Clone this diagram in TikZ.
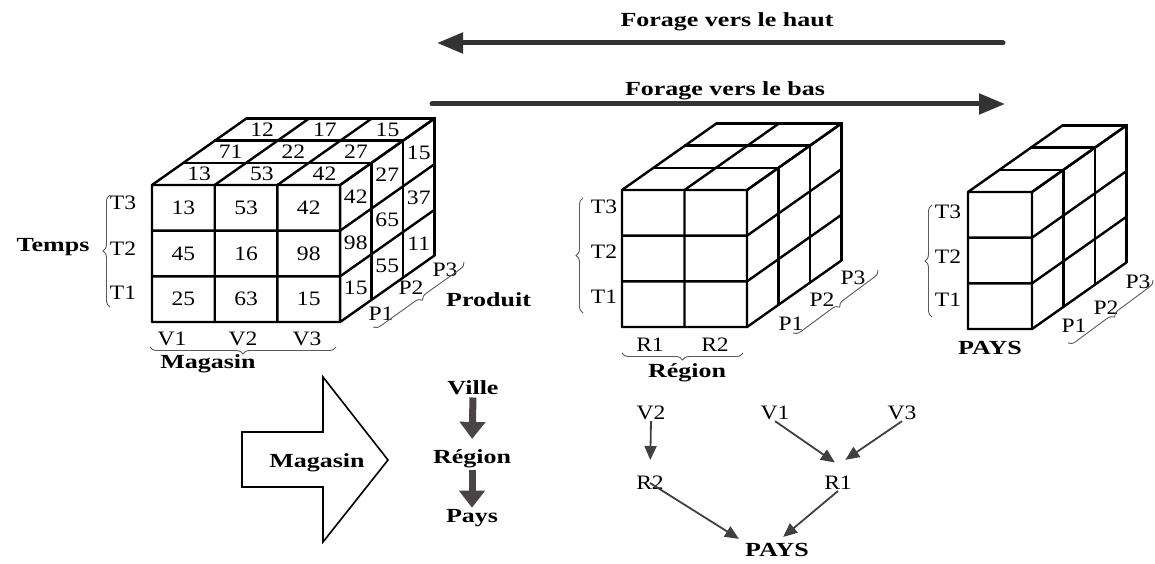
\documentclass[tikz,border=0pt]{standalone}
\usepackage{fontspec}
\setmainfont{Liberation Serif}[FakeStretch=1.15]
\newfontfamily\widebf{Liberation Serif}[FakeStretch=1.3]
\usetikzlibrary{arrows.meta}
\usetikzlibrary{decorations.pathreplacing}

\definecolor{arrowgray}{RGB}{74,68,72}

% data cube: front face at #1, #2 columns of width #3, three rows, three layers deep
\newcommand{\datacube}[3]{%
\begin{scope}[shift={#1}]
	\foreach \i in {0,...,#2} \draw[grid] (\i*#3,0) -- (\i*#3,137) (\i*#3,0) -- ++(94.5,-66.6);
	\foreach \j in {0,...,3} \draw[grid] (0,\j*45.67) -- (#2*#3,\j*45.67) -- ++(94.5,-66.6);
	\foreach \k in {1,2,3} \draw[grid] (\k*31.5,-\k*22.2) -- ++(#2*#3,0) -- ++(0,137);
\end{scope}}

\begin{document}
\begin{tikzpicture}[x=1pt,y=-1pt]
\tikzstyle{every node}=[font=\fontsize{20.5}{24}\selectfont, inner sep=1pt]
\tikzstyle{grid}=[line width=2.4pt, line cap=round]
\tikzstyle{bold}=[font=\fontsize{20}{24}\widebf\bfseries]
\tikzstyle{curly}=[decorate, decoration={brace, amplitude=7pt}, line width=0.9pt, draw=black!65]
\tikzstyle{drill}=[line width=5pt, draw=black!80, line cap=round, -{Triangle[length=26pt,width=20pt]}]
\tikzstyle{fat}=[line width=7pt, draw=arrowgray, -{Triangle[length=17pt,width=25pt]}]
\tikzstyle{roll}=[line width=1.8pt, draw=black!75, -{Triangle[length=14pt,width=12pt]}]
\useasboundingbox (0,0) rectangle (1155,564);

% drill up / drill down
\coordinate (up0) at (1003,43);
\coordinate (up1) at (437,43);
\draw[drill] (up0) -- (up1);
\node[bold, anchor=base] (uptext) at (727,27) {Forage vers le haut};
\coordinate (dn0) at (432,104);
\coordinate (dn1) at (1005,104);
\draw[drill] (dn0) -- (dn1);
\node[bold, anchor=base] (dntext) at (725,96) {Forage vers le bas};

% cube by town
\datacube{(152,185)}{3}{62.7}
\foreach \v [count=\n from 0] in {13,53,42,45,16,98,25,63,15}
{\pgfmathtruncatemacro\cc{mod(\n,3)}\pgfmathtruncatemacro\rr{div(\n,3)}
 \node (front\n) at ({152+(\cc+0.5)*62.7},{185+(\rr+0.5)*45.7}) {\v};}
\foreach \v [count=\n from 0] in {13,53,42,71,22,27,12,17,15}
{\pgfmathtruncatemacro\cc{mod(\n,3)}\pgfmathtruncatemacro\kk{div(\n,3)}
 \node (top\n) at ({152+(\cc+0.5)*62.7+(\kk+0.5)*31.5},{185-(\kk+0.5)*22.2}) {\v};}
\foreach \v [count=\n from 0] in {42,98,15,27,65,55,15,37,11}
{\pgfmathtruncatemacro\rr{mod(\n,3)}\pgfmathtruncatemacro\kk{div(\n,3)}
 \node (side\n) at ({340+(\kk+0.5)*31.5},{185+(\rr+0.5)*45.7-(\kk+0.5)*22.2}) {\v};}

\node (ta3) at (123,203) {T3};
\node (ta2) at (123,249) {T2};
\node (ta1) at (123,293) {T1};
\draw[curly] (110,307) -- (110,195);
\node[bold, anchor=base] (temps) at (53,251) {Temps};
\node[anchor=base] (v1) at (172,345) {V1};
\node[anchor=base] (v2) at (243,345) {V2};
\node[anchor=base] (v3) at (307,345) {V3};
\draw[curly] (336,347) -- (150,347);
\node[bold, anchor=base] (magasin) at (208,368) {Magasin};
\node (pa1) at (381,314) {P1};
\node (pa2) at (411,288) {P2};
\node (pa3) at (445,270) {P3};
\draw[curly] (464,262) -- (373,327);
\node[bold, anchor=base west] (produit) at (445,306) {Produit};

% cube by region
\datacube{(622,190)}{2}{62.5}
\node (tb3) at (604,207) {T3};
\node (tb2) at (604,252) {T2};
\node (tb1) at (604,297) {T1};
\draw[curly] (583,313) -- (583,198);
\node[anchor=base] (r1) at (650,351) {R1};
\node[anchor=base] (r2) at (715,351) {R2};
\draw[curly] (743,353) -- (622,353);
\node[bold, anchor=base] (region) at (687,377) {Région};
\node (pb1) at (791,324) {P1};
\node (pb2) at (822,300) {P2};
\node (pb3) at (853,278) {P3};
\draw[curly] (878,270) -- (793,333);

% cube by country
\datacube{(968,192)}{1}{64}
\node (tc3) at (948,212) {T3};
\node (tc2) at (948,257) {T2};
\node (tc1) at (948,300) {T1};
\draw[curly] (932,317) -- (932,205);
\node[bold] (pays) at (990,348) {PAYS};
\node (pc1) at (1074,326) {P1};
\node (pc2) at (1106,308) {P2};
\node (pc3) at (1138,282) {P3};
\draw[curly] (1153,280) -- (1068,343);

% hierarchy of the store dimension
\draw[line width=1.6pt, fill=white, line join=miter] (242,432) -- (323,432) -- (323,377) -- (388,460)
	-- (323,542) -- (323,487) -- (242,487) -- cycle;
\node[bold, anchor=base] (dim) at (317,467) {Magasin};
\node[bold, anchor=base] (ville) at (473,394) {Ville};
\node[bold, anchor=base] (reg) at (472,463) {Région};
\node[bold, anchor=base] (pays2) at (472,522) {Pays};
\draw[fat, shorten <=2pt, shorten >=9pt] (ville.south) -- (reg.north);
\draw[fat, shorten <=1pt, shorten >=0pt] (reg.south) -- (pays2.north);

% roll-up of the towns
\node (tv2) at (651,413) {V2};
\node (tv1) at (775,413) {V1};
\node (tv3) at (902,413) {V3};
\node (tr2) at (650,483) {R2};
\node (tr1) at (838,483) {R1};
\node[bold] (tpays) at (777,550) {PAYS};
\draw[roll, shorten >=15pt] (tv2.south) -- (tr2.north);
\draw[roll, shorten >=22pt] (tv1.south) -- (tr1.north east);
\draw[roll, shorten >=27pt] (tv3.south) -- (tr1.north west);
\draw[roll, shorten >=6pt] (tr2.center) -- (tpays.north west);
\draw[roll, shorten >=8pt] (tr1.south) -- (tpays.north);
\end{tikzpicture}
\end{document}
